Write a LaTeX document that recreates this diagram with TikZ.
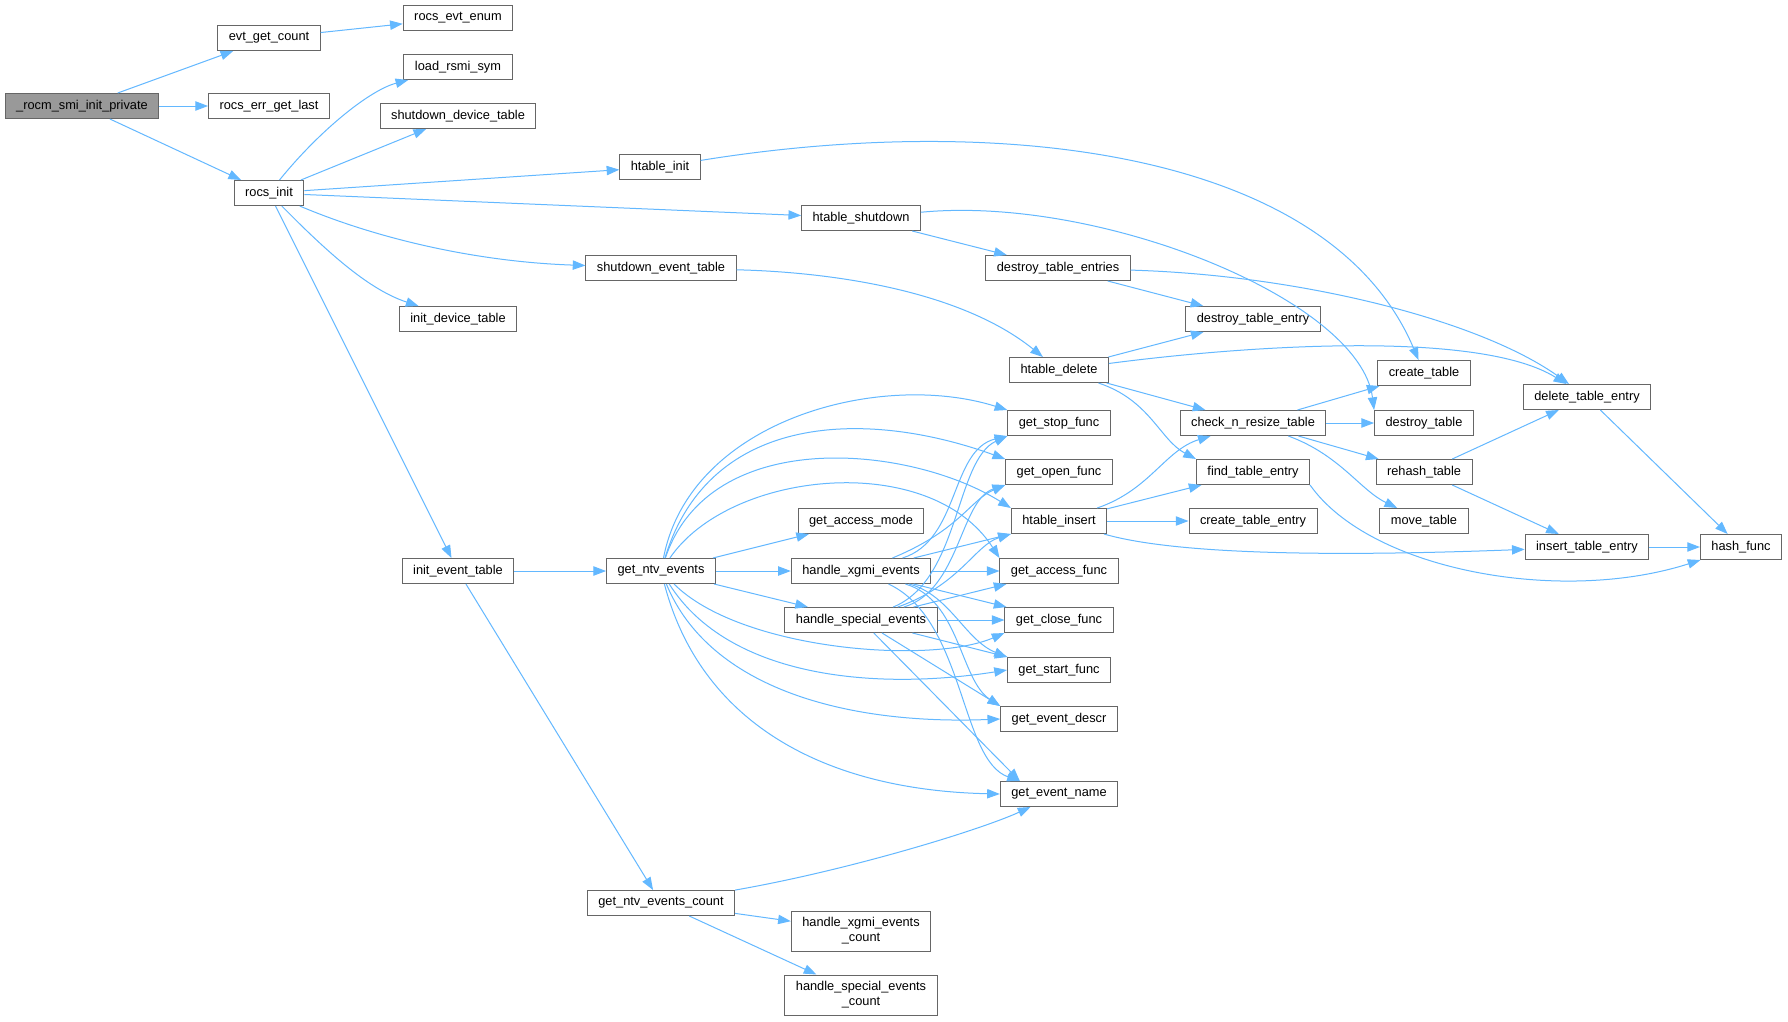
\documentclass[tikz,border=0pt]{standalone}
\usepackage{fontspec}
\setmainfont{Liberation Sans}
\usetikzlibrary{arrows.meta}
\definecolor{edgeblue}{HTML}{63B8FF}
\definecolor{boxgray}{HTML}{666666}
\definecolor{rootgray}{HTML}{999999}

\begin{document}
\begin{tikzpicture}[x=0.75pt,y=-0.75pt,
    func/.style={draw=boxgray, fill=white, line width=0.75pt, inner xsep=8.25pt,
      inner ysep=0pt, minimum height=18.75pt, font=\fontsize{9.6}{11.25}\selectfont},
    rootfunc/.style={func, fill=rootgray},
    twoline/.style={func, align=center, minimum height=30pt},
    callline/.style={draw=edgeblue, line width=0.75pt, -{Triangle[length=9.5pt,width=7pt]}}]
  \path[use as bounding box, fill=white] (0,0) rectangle (1788,1021);

  % Functions, column by column
  \node[rootfunc] (root) at (82,106) {\_rocm\_smi\_init\_private};
  \node[func] (evtcount) at (269,38) {evt\_get\_count};
  \node[func] (errlast) at (269,106) {rocs\_err\_get\_last};
  \node[func] (rocsinit) at (269,193) {rocs\_init};
  \node[func] (evtenum) at (458,18) {rocs\_evt\_enum};
  \node[func] (loadsym) at (458,67) {load\_rsmi\_sym};
  \node[func] (shutdev) at (458,116) {shutdown\_device\_table};
  \node[func] (initdev) at (458,319) {init\_device\_table};
  \node[func] (initevt) at (458,571) {init\_event\_table};
  \node[func] (htinit) at (660,167) {htable\_init};
  \node[func] (shutevt) at (661,268) {shutdown\_event\_table};
  \node[func] (ntv) at (661,571) {get\_ntv\_events};
  \node[func] (ntvcount) at (661,903) {get\_ntv\_events\_count};
  \node[func] (htshut) at (861,218) {htable\_shutdown};
  \node[func] (accmode) at (861,521) {get\_access\_mode};
  \node[func] (xgmi) at (861,571) {handle\_xgmi\_events};
  \node[func] (special) at (861,620) {handle\_special\_events};
  \node[twoline] (xgmicnt) at (861,931) {handle\_xgmi\_events\\\_count};
  \node[twoline] (specialcnt) at (861,995) {handle\_special\_events\\\_count};
  \node[func] (destents) at (1058,268) {destroy\_table\_entries};
  \node[func] (htdel) at (1059,370) {htable\_delete};
  \node[func] (stopf) at (1059,423) {get\_stop\_func};
  \node[func] (openf) at (1059,472) {get\_open\_func};
  \node[func] (htins) at (1059,521) {htable\_insert};
  \node[func] (accf) at (1059,571) {get\_access\_func};
  \node[func] (closef) at (1059,620) {get\_close\_func};
  \node[func] (startf) at (1059,670) {get\_start\_func};
  \node[func] (descr) at (1059,719) {get\_event\_descr};
  \node[func] (evname) at (1059,794) {get\_event\_name};
  \node[func] (destent) at (1253,319) {destroy\_table\_entry};
  \node[func] (chkres) at (1253,423) {check\_n\_resize\_table};
  \node[func] (findent) at (1253,472) {find\_table\_entry};
  \node[func] (creent) at (1253,521) {create\_table\_entry};
  \node[func] (cretab) at (1424,373) {create\_table};
  \node[func] (desttab) at (1424,423) {destroy\_table};
  \node[func] (rehash) at (1424,472) {rehash\_table};
  \node[func] (movetab) at (1424,521) {move\_table};
  \node[func] (delent) at (1587,397) {delete\_table\_entry};
  \node[func] (insent) at (1587,547) {insert\_table\_entry};
  \node[func] (hash) at (1741,547) {hash\_func};

  % Calls from the root and rocs_init
  \draw[callline] (root) -- (evtcount);
  \draw[callline] (root) -- (errlast);
  \draw[callline] (root) -- (rocsinit);
  \draw[callline] (evtcount) -- (evtenum);
  \draw[callline] (rocsinit) .. controls (320,130) and (370,90) .. (loadsym);
  \draw[callline] (rocsinit) -- (shutdev);
  \draw[callline] (rocsinit) -- (htinit);
  \draw[callline] (rocsinit) -- (htshut);
  \draw[callline] (rocsinit) .. controls (380,240) and (480,262) .. (shutevt);
  \draw[callline] (rocsinit) .. controls (330,255) and (370,290) .. (initdev);
  \draw[callline] (rocsinit) -- (initevt);

  % Hash table calls
  \draw[callline] (htinit) .. controls (1000,112) and (1330,150) .. (cretab);
  \draw[callline] (htshut) .. controls (1100,195) and (1360,300) .. (desttab.north west);
  \draw[callline] (htshut) -- (destents);
  \draw[callline] (shutevt) .. controls (830,272) and (960,290) .. (htdel);
  \draw[callline] (destents) -- (destent);
  \draw[callline] (destents) .. controls (1300,275) and (1480,320) .. (delent);
  \draw[callline] (htdel) -- (destent);
  \draw[callline] (htdel) .. controls (1250,345) and (1480,330) .. (delent);
  \draw[callline] (htdel) -- (chkres);
  \draw[callline] (htdel) .. controls (1150,400) and (1160,440) .. (findent.north west);
  \draw[callline] (chkres) -- (cretab);
  \draw[callline] (chkres) -- (desttab);
  \draw[callline] (chkres) -- (rehash);
  \draw[callline] (chkres) .. controls (1340,455) and (1360,490) .. (movetab);
  \draw[callline] (rehash) -- (delent);
  \draw[callline] (rehash) -- (insent);
  \draw[callline] (delent) -- (hash);
  \draw[callline] (insent) -- (hash);
  \draw[callline] (findent.south east) .. controls (1370,570) and (1560,605) .. (hash);
  \draw[callline] (htins) .. controls (1150,490) and (1165,450) .. (chkres);
  \draw[callline] (htins) -- (findent);
  \draw[callline] (htins) -- (creent);
  \draw[callline] (htins) .. controls (1180,556) and (1350,556) .. (insent);

  % Event table calls
  \draw[callline] (initevt) -- (ntv);
  \draw[callline] (initevt) -- (ntvcount);
  \draw[callline] (ntv) .. controls (690,420) and (880,370) .. (stopf.north west);
  \draw[callline] (ntv) .. controls (710,410) and (870,410) .. (openf.north west);
  \draw[callline] (ntv) .. controls (710,425) and (910,445) .. (htins.north west);
  \draw[callline] (ntv) .. controls (730,470) and (930,450) .. (accf.north west);
  \draw[callline] (ntv) -- (accmode);
  \draw[callline] (ntv) -- (xgmi);
  \draw[callline] (ntv) -- (special);
  \draw[callline] (ntv) .. controls (740,650) and (930,665) .. (closef.south west);
  \draw[callline] (ntv) .. controls (730,680) and (880,690) .. (startf.west);
  \draw[callline] (ntv) .. controls (710,690) and (850,725) .. (descr.west);
  \draw[callline] (ntv) .. controls (700,720) and (820,790) .. (evname.west);

  \draw[callline] (xgmi) .. controls (960,540) and (950,450) .. (stopf.south west);
  \draw[callline] (xgmi) .. controls (960,530) and (970,500) .. (openf.south west);
  \draw[callline] (xgmi) -- (htins.south west);
  \draw[callline] (xgmi) -- (accf);
  \draw[callline] (xgmi) -- (closef);
  \draw[callline] (xgmi) .. controls (950,595) and (965,640) .. (startf.north west);
  \draw[callline] (xgmi) .. controls (960,600) and (960,680) .. (descr.north west);
  \draw[callline] (xgmi) .. controls (965,620) and (960,760) .. ([xshift=15pt]evname.north west);

  \draw[callline] (special) .. controls (960,580) and (955,460) .. (stopf.south west);
  \draw[callline] (special) .. controls (960,590) and (960,500) .. (openf.south west);
  \draw[callline] (special) .. controls (960,585) and (975,545) .. (htins.south west);
  \draw[callline] (special) -- (accf);
  \draw[callline] (special) -- (closef);
  \draw[callline] (special) -- (startf);
  \draw[callline] (special) -- (descr.north west);
  \draw[callline] (special) -- ([xshift=15pt]evname.north west);

  \draw[callline] (ntvcount) .. controls (850,870) and (980,830) .. (evname);
  \draw[callline] (ntvcount) -- (xgmicnt);
  \draw[callline] (ntvcount) -- (specialcnt);
\end{tikzpicture}
\end{document}
